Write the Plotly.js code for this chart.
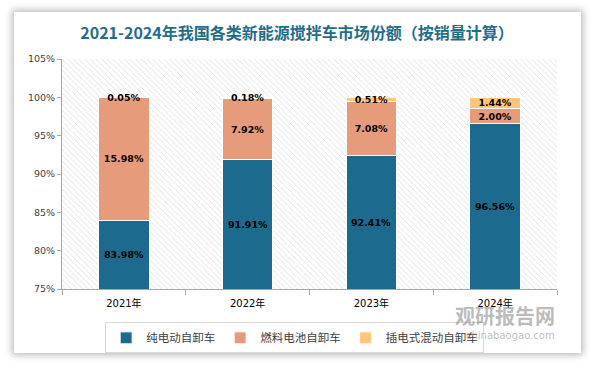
<!DOCTYPE html>
<html>
<head>
<meta charset="utf-8">
<script src="https://cdn.plot.ly/plotly-3.0.1.min.js"></script>
<style>
html,body{margin:0;padding:0;background:#ffffff;width:594px;height:366px;overflow:hidden;}
#card{position:absolute;left:14px;top:12px;width:567px;height:341px;background:#fff;box-shadow:0 0 7px 2px rgba(0,0,0,0.28);}
#chart{position:absolute;left:0;top:0;width:594px;height:366px;}
</style>
</head>
<body>
<div id="card"></div>
<div id="chart"></div>
<script>
const years = ['2021年', '2022年', '2023年', '2024年'];
const bev = [83.98, 91.91, 92.41, 96.56];
const fcev = [15.98, 7.92, 7.08, 2.00];
const phev = [0.05, 0.18, 0.51, 1.44];
const seriesNames = ['纯电动自卸车', '燃料电池自卸车', '插电式混动自卸车'];
const seriesColors = ['#1C6B8E', '#E69B7B', '#FFC578'];
const titleText = '2021-2024年我国各类新能源搅拌车市场份额（按销量计算）';
const yMin = 75, yMax = 105;

const labelFont = {family: 'DejaVu Sans, sans-serif', size: 9.5, color: '#000000', weight: 'bold'};

function mk(vals, i, withText) {
  const t = {
    type: 'bar', x: years, y: vals, name: seriesNames[i],
    xaxis: 'x2', yaxis: 'y',
    width: 0.41,
    marker: {color: seriesColors[i], line: {color: '#ffffff', width: 1}},
    hoverinfo: 'skip'
  };
  if (withText) {
    Object.assign(t, {
      text: vals.map(v => v.toFixed(2) + '%'),
      textposition: 'inside', insidetextanchor: 'middle', textangle: 0,
      constraintext: 'none', cliponaxis: false, textfont: labelFont
    });
  }
  return t;
}

const bg = {
  type: 'bar', x: [0.5], y: [yMax - yMin], base: [yMin], width: [1],
  xaxis: 'x', yaxis: 'y', showlegend: false, hoverinfo: 'skip',
  marker: {color: '#ffffff', line: {width: 0},
    pattern: {shape: '\\', fgcolor: '#D9D9D9', bgcolor: '#ffffff', size: 4, solidity: 0.2}}
};

const data = [bg, mk(bev, 0, false), mk(fcev, 1, true), mk(phev, 2, true)];

// labels for the visible part of the bottom series
const bevLabels = years.map((yr, i) => ({
  x: yr, y: (yMin + bev[i]) / 2, xref: 'x2', yref: 'y',
  text: bev[i].toFixed(2) + '%', showarrow: false, font: labelFont
}));

const layout = {
  width: 594, height: 366,
  paper_bgcolor: 'rgba(0,0,0,0)', plot_bgcolor: '#ffffff',
  margin: {l: 62, r: 37, t: 59, b: 77, autoexpand: false},
  barmode: 'stack', bargap: 0.59,
  title: {text: titleText, x: 0.5, xref: 'container', xanchor: 'center', y: 0.91, yanchor: 'middle',
    font: {family: 'Noto Sans CJK SC, sans-serif', size: 16, color: '#1F6E8B', weight: 'bold'}},
  xaxis: {range: [0, 1], visible: false, fixedrange: true},
  xaxis2: {overlaying: 'x', anchor: 'y', side: 'bottom', type: 'category', range: [-0.5, 3.5],
    showline: true, linecolor: '#A6A6A6', linewidth: 1,
    ticks: 'outside', tickson: 'boundaries', ticklen: 5, tickcolor: '#A6A6A6', ticklabelstandoff: 5,
    tickfont: {family: 'DejaVu Sans, Noto Sans CJK SC, sans-serif', size: 10, color: '#000000'},
    showgrid: false, zeroline: false},
  yaxis: {range: [yMin, yMax], dtick: 5, ticksuffix: '%', showgrid: false, zeroline: false,
    showline: true, linecolor: '#A6A6A6', linewidth: 1, ticks: 'outside', ticklen: 4, tickcolor: '#A6A6A6',
    tickfont: {family: 'DejaVu Sans, sans-serif', size: 9.5, color: '#404040'}},
  legend: {orientation: 'h', x: 0.47, xanchor: 'center', y: -0.145, yanchor: 'top',
    bordercolor: '#D9D9D9', borderwidth: 1, bgcolor: 'rgba(255,255,255,0.6)',
    font: {family: 'Noto Sans CJK SC, sans-serif', size: 11.5, color: '#404040'},
    traceorder: 'normal', itemwidth: 30, tracegroupgap: 0},
  annotations: bevLabels.concat([
    {text: '观研报告网', xref: 'paper', yref: 'paper', x: 1.0, y: -0.115, xanchor: 'right', yanchor: 'middle',
      showarrow: false, font: {family: 'Noto Sans CJK SC, sans-serif', size: 20, color: 'rgba(120,120,120,0.5)', weight: 'bold'}},
    {text: 'chinabaogao.com', xref: 'paper', yref: 'paper', x: 1.0, y: -0.2, xanchor: 'right', yanchor: 'middle',
      showarrow: false, font: {family: 'DejaVu Sans, sans-serif', size: 10, color: 'rgba(120,120,120,0.5)'}}
  ]),
  showlegend: true
};

Plotly.newPlot('chart', data, layout, {displayModeBar: false, staticPlot: true});
</script>
</body>
</html>
